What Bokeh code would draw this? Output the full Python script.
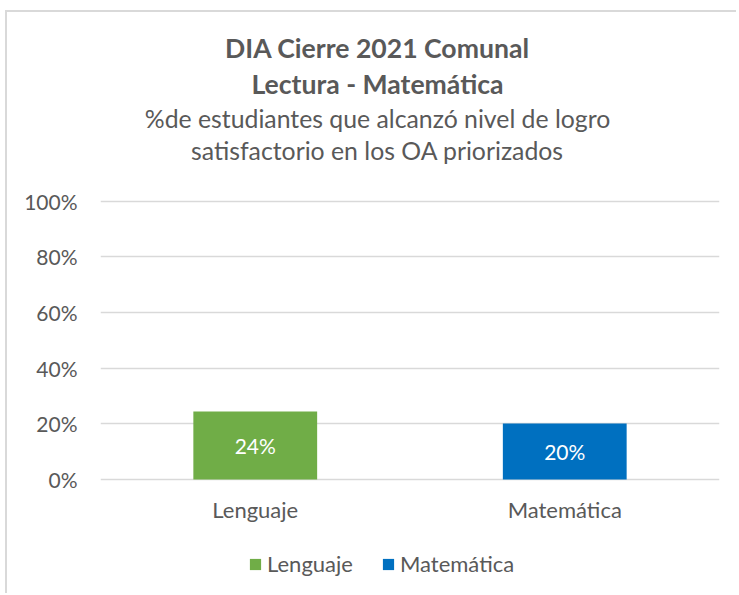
from bokeh.plotting import figure
from bokeh.models import (FactorRange, Range1d, FixedTicker, NumeralTickFormatter,
                          Label, Legend, LegendItem, ColumnDataSource)
from bokeh.embed import file_html
from bokeh.resources import INLINE

categories = ["Lenguaje", "Matemática"]
values = [0.244, 0.201]
value_labels = ["24%", "20%"]
colors = ["#70AD47", "#0070C0"]
y_ticks = [0, 0.2, 0.4, 0.6, 0.8, 1.0]
title_lines = ["DIA Cierre 2021 Comunal", "Lectura - Matemática"]
subtitle_lines = ["%de estudiantes que alcanzó nivel de logro",
                  "satisfactorio en los OA priorizados"]

FONT = "Lato"
TXT = "#595959"
OX, OY = 7, 12            # css margin + border offset of the canvas
W, H = 731, 583
FRAME_L, FRAME_R = 100, 719   # page px of plot frame left/right
ZERO_Y, ONE_Y = 479, 200.7    # page px of 0% and 100%
PX = ZERO_Y - ONE_Y
y0 = -((OY + H) - ZERO_Y) / PX
y1 = (ZERO_Y - OY) / PX

p = figure(width=W, height=H, x_range=FactorRange(*categories), y_range=Range1d(y0, y1),
           output_backend="svg", toolbar_location=None, title_location=None,
           min_border_left=FRAME_L - OX, min_border_right=(OX + W) - FRAME_R,
           min_border_top=0, min_border_bottom=0)
p.outline_line_color = None
p.background_fill_color = "white"
p.border_fill_color = "white"
p.styles = {"margin-left": "5px", "margin-top": "10px",
            "border-top": "2px solid #D9D9D9", "border-left": "2px solid #D9D9D9"}

src = ColumnDataSource(dict(cat=categories, val=values, lab=value_labels,
                            half=[v / 2 for v in values]))
renderers = []
for i, c in enumerate(categories):
    r = p.vbar(x=[c], top=[values[i]], width=0.4, color=colors[i], line_color=None)
    renderers.append(r)

p.text(x="cat", y="half", text="lab", source=src, text_align="center",
       text_baseline="middle", text_color="white", text_font_size="21px",
       text_font={"value": FONT})

# axes
p.yaxis.ticker = FixedTicker(ticks=y_ticks)
p.yaxis.formatter = NumeralTickFormatter(format="0%")
p.xaxis.fixed_location = 0
for ax in (p.xaxis[0], p.yaxis[0]):
    ax.axis_line_color = None
    ax.major_tick_line_color = None
    ax.minor_tick_line_color = None
    ax.major_label_text_font = FONT
    ax.major_label_text_color = TXT
p.yaxis.major_label_text_font_size = "21px"
p.xaxis.major_label_text_font_size = "22px"
p.yaxis.major_label_standoff = 17
p.xaxis.major_label_standoff = 10
p.ygrid.grid_line_color = "#D9D9D9"
p.ygrid.grid_line_width = 1.5
p.xgrid.grid_line_color = None

# legend (screen px from the frame's bottom-left corner)
legend = Legend(items=[LegendItem(label=categories[i], renderers=[renderers[i]]) for i in range(2)],
                orientation="horizontal", location=(248 - FRAME_L, (OY + H) - 577),
                label_text_font=FONT, label_text_font_size="22px", label_text_color=TXT,
                glyph_width=14, glyph_height=14, label_standoff=5, spacing=28,
                border_line_color=None, background_fill_alpha=0, padding=0, margin=0)
p.add_layout(legend)

# titles: (text, page y, bold, size)
cx = 377
for txt, base, bold, size in [(title_lines[0], 47, True, "26.6px"),
                              (title_lines[1], 83, True, "26.6px"),
                              (subtitle_lines[0], 118, False, "24.8px"),
                              (subtitle_lines[1], 150, False, "24.8px")]:
    p.add_layout(Label(x=cx - FRAME_L, y=(OY + H) - base, x_units="screen", y_units="screen",
                       text=txt, text_align="center", text_baseline="alphabetic",
                       text_color=TXT, text_font=FONT, text_font_size=size,
                       text_font_style="bold" if bold else "normal"))

open("out.html", "w").write(file_html(p, INLINE))
